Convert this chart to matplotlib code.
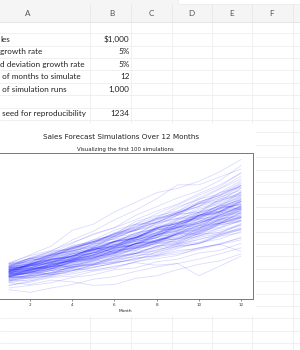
import matplotlib
matplotlib.use("Agg")
import matplotlib.pyplot as plt
from matplotlib.patches import Rectangle

# ---------------- data ----------------
column_letters = ["A", "B", "C", "D", "E", "F"]
param_labels = ["les", "growth rate", "d deviation growth rate",
                " of months to simulate", " of simulation runs", "",
                " seed for reproducibility"]
param_values = ["$1,000", "5%", "5%", "12", "1,000", "", "1234"]

months = [1, 2, 3, 4, 5, 6, 7, 8, 9, 10, 11, 12]

simulations = [
    [1050,1124,1113,1213,1262,1413,1455,1543,1543,1697,1782,1818],
    [1120,1210,1174,1233,1331,1278,1380,1477,1654,1687,1822,1767],
    [980,1049,1091,1168,1215,1276,1378,1447,1418,1560,1654,1753],
    [1010,1040,1133,1190,1309,1348,1402,1444,1603,1683,1750,1838],
    [1090,1068,1143,1177,1248,1373,1332,1412,1497,1542,1727,1779],
    [1030,1144,1178,1260,1298,1402,1444,1574,1621,1735,1804,1967],
    [940,987,1006,1066,1141,1175,1245,1258,1334,1380,1464,1537],
    [1070,1135,1168,1250,1312,1338,1472,1516,1562,1702,1770,1912],
    [1100,1122,1234,1271,1373,1428,1471,1618,1666,1733,1889,1946],
    [1000,1060,1028,1131,1176,1270,1346,1373,1496,1481,1600,1680],
    [1150,1208,1292,1318,1423,1466,1598,1614,1727,1830,1867,2016],
    [960,950,1016,1067,1131,1165,1188,1283,1347,1374,1484,1543],
    [1060,1145,1202,1214,1323,1402,1430,1558,1621,1669,1786,1929],
    [1040,1082,1147,1101,1167,1225,1323,1376,1390,1501,1591,1639],
    [1080,1134,1247,1297,1336,1469,1528,1620,1717,1734,1856,1967],
    [1020,1091,1113,1191,1203,1311,1377,1404,1488,1622,1655,1771],
    [1110,1099,1165,1235,1272,1335,1442,1471,1574,1606,1702,1753],
    [990,1069,1133,1190,1297,1323,1443,1500,1560,1701,1752,1857],
    [1050,1071,1114,1192,1240,1339,1366,1475,1564,1579,1705,1807],
    [1130,1209,1245,1357,1398,1482,1630,1696,1747,1887,1943,2079],
    [900,936,992,1002,1062,1094,1171,1206,1242,1329,1369,1451],
    [1070,1102,1201,1237,1324,1390,1432,1546,1577,1703,1720,1858],
    [1010,1081,1102,1179,1273,1286,1376,1445,1531,1562,1671,1771],
    [1040,1030,1092,1179,1226,1263,1376,1418,1489,1593,1657,1707],
    [1090,1155,1259,1284,1374,1457,1486,1605,1670,1787,1840,1969],
    [1020,1051,1124,1113,1202,1262,1325,1391,1405,1517,1608,1672],
    [1060,1134,1168,1262,1300,1391,1502,1547,1640,1771,1824,1951],
    [970,1028,1069,1101,1178,1202,1286,1337,1430,1459,1561,1639],
    [1120,1187,1223,1333,1386,1483,1527,1634,1732,1801,1963,2022],
    [1030,1061,1082,1169,1192,1275,1301,1392,1434,1491,1595,1627],
    [1000,1080,1134,1213,1274,1312,1417,1488,1592,1672,1739,1878],
    [1080,1091,1178,1190,1285,1350,1404,1446,1562,1609,1706,1791],
    [950,1007,1037,1110,1143,1223,1272,1348,1375,1471,1530,1591],
    [1100,1166,1248,1310,1402,1430,1544,1621,1702,1855,1929,2064],
    [1050,1103,1092,1168,1215,1300,1378,1392,1503,1563,1610,1739],
    [1010,1070,1145,1179,1226,1324,1364,1473,1532,1609,1689,1740],
    [1140,1163,1244,1294,1372,1399,1497,1557,1666,1699,1818,1909],
    [1000,990,1050,1113,1135,1204,1264,1289,1379,1421,1492,1552],
    [1070,1145,1214,1299,1338,1445,1532,1593,1704,1806,1860,2009],
    [1030,1082,1115,1204,1252,1327,1367,1463,1478,1581,1692,1726],
    [1090,1123,1190,1226,1312,1351,1432,1532,1563,1657,1690,1808],
    [960,1018,1089,1111,1189,1248,1298,1389,1444,1502,1607,1687],
    [1060,1092,1114,1192,1252,1302,1380,1421,1521,1582,1614,1727],
    [1110,1187,1223,1333,1400,1456,1587,1650,1749,1854,1928,2044],
    [1020,1040,1113,1158,1239,1276,1378,1406,1490,1550,1643,1676],
    [1050,1134,1157,1215,1312,1364,1446,1533,1579,1690,1740,1862],
    [980,1019,1070,1134,1145,1225,1262,1350,1391,1488,1503,1608],
    [1080,1145,1202,1226,1336,1403,1445,1560,1607,1720,1805,1877],
    [1040,1061,1135,1169,1252,1277,1354,1408,1506,1552,1645,1727],
    [1150,1173,1255,1330,1383,1494,1539,1662,1712,1832,1887,2038],
    [1000,1050,1113,1147,1216,1301,1327,1420,1477,1536,1659,1692],
    [1070,1102,1157,1238,1263,1364,1418,1489,1534,1656,1705,1807],
    [930,967,1025,1046,1109,1153,1211,1247,1322,1388,1430,1516],
    [1100,1155,1213,1322,1348,1443,1529,1575,1701,1752,1875,1931],
    [1030,1071,1092,1158,1204,1289,1327,1407,1463,1507,1613,1693],
    [1060,1113,1191,1239,1326,1366,1448,1549,1611,1724,1792,1882],
    [1120,1142,1199,1283,1309,1400,1442,1557,1604,1700,1751,1891],
    [990,1049,1070,1134,1191,1239,1326,1352,1433,1519,1565,1674],
    [1050,1071,1146,1180,1274,1312,1404,1474,1518,1640,1673,1790],
    [1010,1081,1135,1203,1239,1339,1392,1476,1550,1597,1708,1777],
    [1080,1124,1157,1238,1312,1351,1459,1503,1623,1672,1789,1825],
    [1040,1092,1158,1181,1252,1327,1353,1448,1506,1581,1644,1760],
    [970,1009,1049,1112,1146,1215,1264,1327,1367,1449,1493,1597],
    [1130,1198,1258,1346,1400,1498,1558,1667,1734,1838,1930,2046],
    [1020,1030,1092,1125,1181,1240,1265,1341,1382,1465,1509,1585],
    [1060,1103,1169,1204,1288,1340,1420,1463,1565,1612,1725,1795],
    [1090,1155,1190,1273,1324,1403,1487,1547,1655,1738,1808,1934],
    [1000,1060,1081,1146,1215,1264,1340,1407,1435,1521,1613,1645],
    [1050,1082,1147,1204,1241,1328,1381,1478,1522,1629,1678,1779],
    [1110,1143,1223,1260,1348,1402,1472,1560,1607,1703,1789,1860],
    [950,998,1028,1100,1133,1200,1224,1310,1349,1430,1473,1561],
    [1070,1134,1191,1227,1301,1379,1420,1505,1595,1659,1775,1828],
    [1030,1051,1124,1169,1228,1265,1354,1394,1492,1537,1629,1710],
    [1140,1208,1280,1318,1410,1481,1570,1664,1731,1835,1908,2041],
    [1010,1040,1113,1135,1203,1251,1314,1380,1407,1491,1551,1644],
    [1060,1124,1146,1227,1276,1365,1406,1505,1565,1628,1742,1794],
    [990,1010,1070,1092,1157,1192,1264,1302,1367,1394,1478,1537],
    [1080,1134,1202,1238,1324,1390,1446,1547,1609,1706,1774,1898],
    [1020,1081,1103,1169,1216,1289,1327,1407,1477,1522,1628,1677],
    [1100,1122,1189,1261,1311,1403,1445,1532,1593,1689,1739,1843],
    [1040,1102,1169,1204,1276,1340,1420,1477,1580,1628,1741,1811],
    [960,989,1048,1069,1133,1167,1237,1274,1350,1377,1460,1504],
    [1070,1124,1158,1239,1301,1354,1449,1492,1596,1660,1743,1865],
    [1050,1092,1125,1193,1228,1302,1341,1422,1450,1537,1614,1662],
    [1120,1187,1246,1333,1386,1469,1557,1619,1733,1802,1910,1986],
    [1150,1250,1350,1530,1600,1740,1850,1960,2010,2090,2200,2338],
    [1110,1220,1290,1420,1520,1650,1760,1890,2050,2050,2140,2230],
    [1090,1200,1270,1380,1490,1560,1700,1800,1900,1980,2100,2270],
    [850,820,870,910,970,1000,1060,1110,1150,1200,1260,1330],
    [930,910,960,940,900,910,980,1010,1080,1140,1180,1260],
    [1000,1050,1020,1090,1070,1120,1160,1130,1150,1010,1120,1234],
    [870,900,930,990,1020,1080,1100,1170,1200,1270,1300,1380],
    [1160,1240,1300,1390,1480,1560,1650,1750,1830,1950,2050,2180],
    [1030,1120,1200,1290,1360,1460,1540,1650,1720,1840,1960,2100],
    [1060,1150,1240,1300,1400,1490,1570,1670,1780,1900,2010,2150],
    [990,1010,1040,1080,1110,1150,1210,1240,1280,1330,1370,1420],
    [1080,1140,1230,1320,1390,1500,1600,1680,1800,1880,2000,2120],
    [1000,980,1020,1070,1100,1160,1200,1240,1300,1320,1380,1440],
    [1110,1170,1260,1340,1420,1530,1600,1720,1820,1930,2030,2190],
    [900,950,1000,1030,1080,1110,1170,1230,1260,1310,1370,1290],
]

chart_title = "Sales Forecast Simulations Over 12 Months"
chart_subtitle = "Visualizing the first 100 simulations"
x_label = "Month"

# ---------------- figure ----------------
W, H = 300, 350
fig = plt.figure(figsize=(W / 100, H / 100), dpi=100)
fig.patch.set_facecolor("white")

bg = fig.add_axes([0, 0, 1, 1])
bg.set_xlim(0, W)
bg.set_ylim(H, 0)
bg.axis("off")

grid_c = "#eeeeee"
# header band
bg.add_patch(Rectangle((0, 0), W, 22, facecolor="#f5f5f5", edgecolor="none", zorder=1))
bg.add_patch(Rectangle((178, -1), 130, 5, facecolor="white", edgecolor="#e8e8e8", lw=0.5, zorder=2))
bg.plot([0, W], [22, 22], color="#e0e0e0", lw=0.6, zorder=2)

col_edges = [90, 131, 172, 212, 252, 293]
col_centers = [28, 112, 151, 191, 232, 272]
for xe in col_edges:
    bg.plot([xe, xe], [4, 22], color="#e6e6e6", lw=0.5, zorder=2)
    bg.plot([xe, xe], [22, H], color=grid_c, lw=0.6, zorder=1)
row_y = [22 + 11.2 + 12.4 * i for i in range(30)]
for ry in row_y:
    bg.plot([0, W], [ry, ry], color=grid_c, lw=0.6, zorder=1)

cell_font = ["Lato", "DejaVu Sans"]
for letter, cx in zip(column_letters, col_centers):
    bg.text(cx, 14, letter, ha="center", va="center", fontsize=5.9,
            color="#555555", family=cell_font, zorder=3)

for i, (lab, val) in enumerate(zip(param_labels, param_values)):
    cy = 39.4 + 12.4 * i
    bg.text(0.3, cy, lab, ha="left", va="center", fontsize=5.9,
            color="#222222", family=cell_font, zorder=3)
    bg.text(129.5, cy, val, ha="right", va="center", fontsize=5.9,
            color="#222222", family=cell_font, zorder=3)

# chart image area
bg.add_patch(Rectangle((-2, 124), 258, 192, facecolor="white", edgecolor="none", zorder=4))

fig.text(121 / W, 1 - 137 / H, chart_title, ha="center", va="center",
         fontsize=5.2, color="#222222")
fig.text(125 / W, 1 - 149 / H, chart_subtitle, ha="center", va="center",
         fontsize=3.9, color="#222222")

ax = fig.add_axes([-2.5 / W, 51 / H, 255 / W, 146 / H])
ax.set_facecolor("white")
for series in simulations:
    ax.plot(months, series, color="blue", alpha=0.14, lw=0.6)

ax.set_xticks([2, 4, 6, 8, 10, 12])
ax.tick_params(axis="x", labelsize=3, length=1.5, width=0.4, pad=1.2, colors="#333333")
ax.tick_params(axis="y", labelleft=False, length=1.5, width=0.4)
ax.set_xlabel(x_label, fontsize=3.2, labelpad=1.5, color="#222222")
for sp in ax.spines.values():
    sp.set_color("#777777")
    sp.set_linewidth(0.7)

fig.savefig("out.png", dpi=100, facecolor="white")
